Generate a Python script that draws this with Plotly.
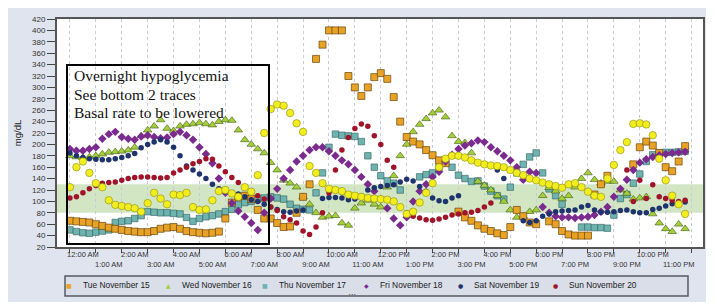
import plotly.graph_objects as go

# ---------------- data (15-minute readings, mg/dL) ----------------
HOURS = [i / 4 for i in range(96)]

tue_nov15 = [66, 65, 64, 63, 60, 57, 54, 52, 50, 48, 47, 46, 46, 48, 52, 54,
             55, 52, 48, 46, 45, 44, 45, 47, 70, 98, 108, 110, 104, 85, 70, 70,
             62, 55, 56, 80, 108, 130, 350, 375, 400, 400, 400, 320, 300, 285, 300, 318,
             325, 315, 283, 240, 213, 205, 200, 190, 181, 172, 167, None, 82, 72, 66, 58,
             52, 48, 44, 41, 55, 85, 74, 63, 60, None, 65, 60, 48, 42, 40, 40,
             40, 112, 130, 145, None, None, None, 165, 195, 205, 198, 185, 160, 153, 170, 197]

wed_nov16 = [180, 178, 177, 178, 180, 183, 186, 187, 188, 190, 195, 215, 225, 232, 243, 228,
             224, 232, 235, 236, 238, 236, 234, 240, 243, 242, 225, 208, 200, 192, 185, 168,
             155, 137, 132, 125, 108, 95, 80, 72, 74, 75, 62, 58, 88, 97, 102, 95,
             90, 125, 145, 180, 200, 222, 235, 245, 255, 260, 248, 215, 205, 203, 185, 135,
             128, 120, 110, 100, 85, 72, 74, 82, 85, 110, 124, 118, 105, 110, 125, 140,
             150, 138, 132, 135, 135, 120, 114, 104, 106, 108, 78, 62, 52, 47, 60, 52]

thu_nov17 = [50, 47, 45, 44, 46, 48, 50, 63, 65, 66, 70, 75, 82, 81, 80, 80,
             79, 78, 72, 65, 70, 73, 75, 78, 82, 86, 94, 98, 100, 104, 106, 108,
             106, 104, 95, 88, 86, 85, 115, 150, 195, 218, 216, 215, 214, 205, 180, 160,
             145, 136, 132, 120, None, None, 143, 147, 150, 160, 168, 160, 146, 140, 135, 136,
             127, 118, 110, 104, 125, 150, 165, 178, 185, 150, 122, 110, 95, None, None, 55,
             55, 54, 54, 53, 76, 105, 112, 132, 148, 170, 182, 185, 186, 186, 187, 188]

fri_nov18 = [192, 189, 189, 192, 195, 210, 218, 222, 213, 210, 208, 214, 216, 213, 211, 212,
             218, 222, 216, 208, 195, 183, 167, 140, 115, 97, 83, 73, 62, 50, 80, 105,
             122, 140, 155, 170, 180, 190, 195, 195, 188, 180, 172, 165, 155, 143, 130, 118,
             104, 88, 70, 58, 72, 100, 118, 130, 143, 152, 170, 182, 192, 198, 202, 207,
             204, 195, 188, 180, 172, 160, 138, 152, 150, 90, 80, 74, 72, 72, 71, 72,
             73, 76, 82, 90, 108, 122, 138, 155, 168, 174, 178, 181, 183, 185, 186, 187]

sat_nov19 = [185, 180, 177, 175, 174, 173, 173, 175, 177, 180, 184, 194, 200, 204, 208, 204,
             195, 180, 162, 155, 148, 140, 130, 122, 118, 115, 113, 108, 103, 100, 95, 90,
             86, 82, 81, 83, 85, None, None, 105, 107, 107, 106, 103, 104, 110, 120, 124,
             126, 128, 129, 134, 139, 136, 126, 118, 106, 101, 100, 106, 110, None, None, None,
             None, None, 155, 140, None, None, 66, 63, 66, 74, 78, 82, 83, 84, 85, 90,
             93, 85, 81, 81, 82, 84, 85, 82, 80, 80, 86, 88, 92, 96, 98, 99]

sun_nov20 = [106, 108, 115, 122, 128, 132, 133, 134, 137, 140, 142, 143, 143, 142, 141, 142,
             150, 155, 160, 166, 170, 175, 174, 162, 152, 142, 133, 126, 118, 110, 104, 90,
             84, 73, 68, 62, 48, 42, 55, 80, 115, 155, 190, 212, 228, 236, 232, 215,
             200, 172, 160, None, 80, 74, 71, 68, 67, 69, 72, 76, 78, 80, 81, 84,
             90, 97, None, None, None, None, None, None, None, None, None, None, None, None, None, None,
             None, None, None, None, None, None, 155, 100, 137, 105, 129, 108, 105, 102, 100, 102]

other_day = [125, 160, 170, 150, 132, 125, 102, 94, 92, 90, 88, 82, 97, 115, 105, 95,
             112, 111, 115, 90, 85, 86, 102, 118, 120, 114, 108, 125, 117, 146, 220, 262,
             270, 268, 255, 237, 222, 162, 150, 132, 122, 120, 118, 112, 110, 108, 106, 105,
             104, 103, 100, 90, 78, 82, 98, 115, 132, 160, 175, 180, 180, 177, 172, 168,
             165, 163, 162, 160, 155, 150, 146, 140, 137, 133, 130, 127, 124, 130, 132, 125,
             117, 110, 108, 140, 164, 190, 204, 236, 237, 235, 216, 175, 137, 110, 95, 78]

TICK_HOURS = list(range(25))
TICK_TEXT = ["12:00 AM", "1:00 AM", "2:00 AM", "3:00 AM", "4:00 AM", "5:00 AM",
             "6:00 AM", "7:00 AM", "8:00 AM", "9:00 AM", "10:00 AM", "11:00 AM",
             "12:00 PM", "1:00 PM", "2:00 PM", "3:00 PM", "4:00 PM", "5:00 PM",
             "6:00 PM", "7:00 PM", "8:00 PM", "9:00 PM", "10:00 PM", "11:00 PM", ""]
LEGEND_NAMES = ["Tue November 15", "Wed November 16", "Thu November 17",
                "Fri November 18", "Sat November 19", "Sun November 20"]
TARGET_LOW, TARGET_HIGH = 80, 130

# ---------------- figure geometry ----------------
# the page body has an 8px margin, so the figure sits 8px right / down
OFF = 8
W, H = 700, 294
ML, MR, MT, MB = 57 - OFF, 5, 19 - OFF, 294 - (247 - OFF)
PW, PH = W - ML - MR, H - MT - MB


def px_x(p):  # page pixel -> paper fraction
    return (p - OFF - ML) / PW


def px_y(p):
    return (H - MB - (p - OFF)) / PH


styles = {
    "Thu November 17": ("square", 6.5, "#6fb3b0", "#2f5f5e", 0.6),
    "Wed November 16": ("triangle-up", 7.5, "#a5cf3a", "#3f5a12", 0.6),
    "Tue November 15": ("square", 7, "#e8a326", "#6a4508", 0.7),
    "Fri November 18": ("diamond", 6.5, "#7b2a8e", "#7b2a8e", 0),
    "Sat November 19": ("circle", 5.5, "#1f336e", "#1f336e", 0),
    "Sun November 20": ("circle", 5.5, "#a0142a", "#a0142a", 0),
    "Mon November 21": ("circle", 7.5, "#f2ee1e", "#8c8a18", 0.6),
}
data = [("Thu November 17", thu_nov17), ("Wed November 16", wed_nov16),
        ("Tue November 15", tue_nov15), ("Fri November 18", fri_nov18),
        ("Sat November 19", sat_nov19), ("Sun November 20", sun_nov20),
        ("Mon November 21", other_day)]

fig = go.Figure()
for name, vals in data:
    sym, size, fill, edge, lw = styles[name]
    fig.add_trace(go.Scatter(
        x=HOURS, y=vals, mode="markers", name=name, showlegend=False,
        marker=dict(symbol=sym, size=size, color=fill,
                    line=dict(color=edge, width=lw)),
    ))

shapes = [
    dict(type="rect", xref="paper", yref="y", x0=0, x1=1, y0=TARGET_LOW, y1=TARGET_HIGH,
         fillcolor="#d2e6c4", line=dict(width=0), layer="below"),
    dict(type="rect", xref="paper", yref="paper", x0=px_x(67), x1=px_x(269),
         y0=px_y(244), y1=px_y(65), line=dict(color="#000000", width=2),
         fillcolor="rgba(0,0,0,0)", layer="above"),
    dict(type="rect", xref="paper", yref="paper", x0=px_x(65), x1=px_x(688),
         y0=px_y(296), y1=px_y(276), line=dict(color="#555a66", width=1.5),
         fillcolor="#d9dee9", layer="below"),
]

annotations = []
for i, txt in enumerate(["Overnight hypoglycemia", "See bottom 2 traces",
                         "Basal rate to be lowered"]):
    annotations.append(dict(
        xref="paper", yref="paper", x=px_x(72), y=px_y(75 + i * 19),
        xanchor="left", yanchor="middle", showarrow=False, text=txt,
        font=dict(family="Liberation Serif", size=15.5, color="#111111")))

# legend (symbol glyph + label), laid out like the original legend bar
legend_glyph = {"square": "■", "triangle-up": "▲", "circle": "●", "diamond": "◆"}
legend_x = [69, 168, 265, 366, 460, 555]
for lx, name in zip(legend_x, LEGEND_NAMES):
    sym, size, fill, edge, lw = styles[name]
    annotations.append(dict(
        xref="paper", yref="paper", x=px_x(lx), y=px_y(285), xanchor="center",
        yanchor="middle", showarrow=False, text=legend_glyph[sym],
        font=dict(family="DejaVu Sans", size=6, color=fill)))
    annotations.append(dict(
        xref="paper", yref="paper", x=px_x(lx + 12), y=px_y(285), xanchor="left",
        yanchor="middle", showarrow=False, text=name,
        font=dict(family="Liberation Sans", size=8.4, color="#222222")))
annotations.append(dict(
    xref="paper", yref="paper", x=px_x(352), y=px_y(294), xanchor="center",
    yanchor="middle", showarrow=False, text="• • •",
    font=dict(family="Liberation Sans", size=4, color="#333333")))

tick_text = [t if i % 2 == 0 else "<br>" + t for i, t in enumerate(TICK_TEXT)]

fig.update_layout(
    width=W, height=H,
    margin=dict(l=ML, r=MR, t=MT, b=MB, pad=0),
    paper_bgcolor="#dfe4ee",
    plot_bgcolor="#ffffff",
    font=dict(family="Liberation Sans", size=8, color="#333333"),
    shapes=shapes,
    annotations=annotations,
    showlegend=False,
    xaxis=dict(
        range=[-0.5, 24.44], tickmode="array", tickvals=TICK_HOURS, ticktext=tick_text,
        tickangle=0, automargin=False, ticklabelstandoff=-5,
        ticks="outside", ticklen=4, tickcolor="#444444", tickwidth=1,
        ticklabelshift=13, showgrid=True, gridcolor="#c9c9dc", griddash="dot",
        gridwidth=1, zeroline=False, showline=True, linecolor="#555555", linewidth=2,
        mirror=True, tickfont=dict(size=7.5, color="#333333"), fixedrange=True,
    ),
    yaxis=dict(
        range=[20, 420], dtick=20, tick0=20, ticks="outside", ticklen=8,
        tickcolor="#444444", showgrid=False, zeroline=False, showline=True,
        linecolor="#555555", linewidth=2, mirror=True, automargin=False,
        tickfont=dict(size=8, color="#333333"),
        title=dict(text="mg/dL", font=dict(size=9.5, color="#222222"), standoff=9),
    ),
)

fig.write_html("out.html")
